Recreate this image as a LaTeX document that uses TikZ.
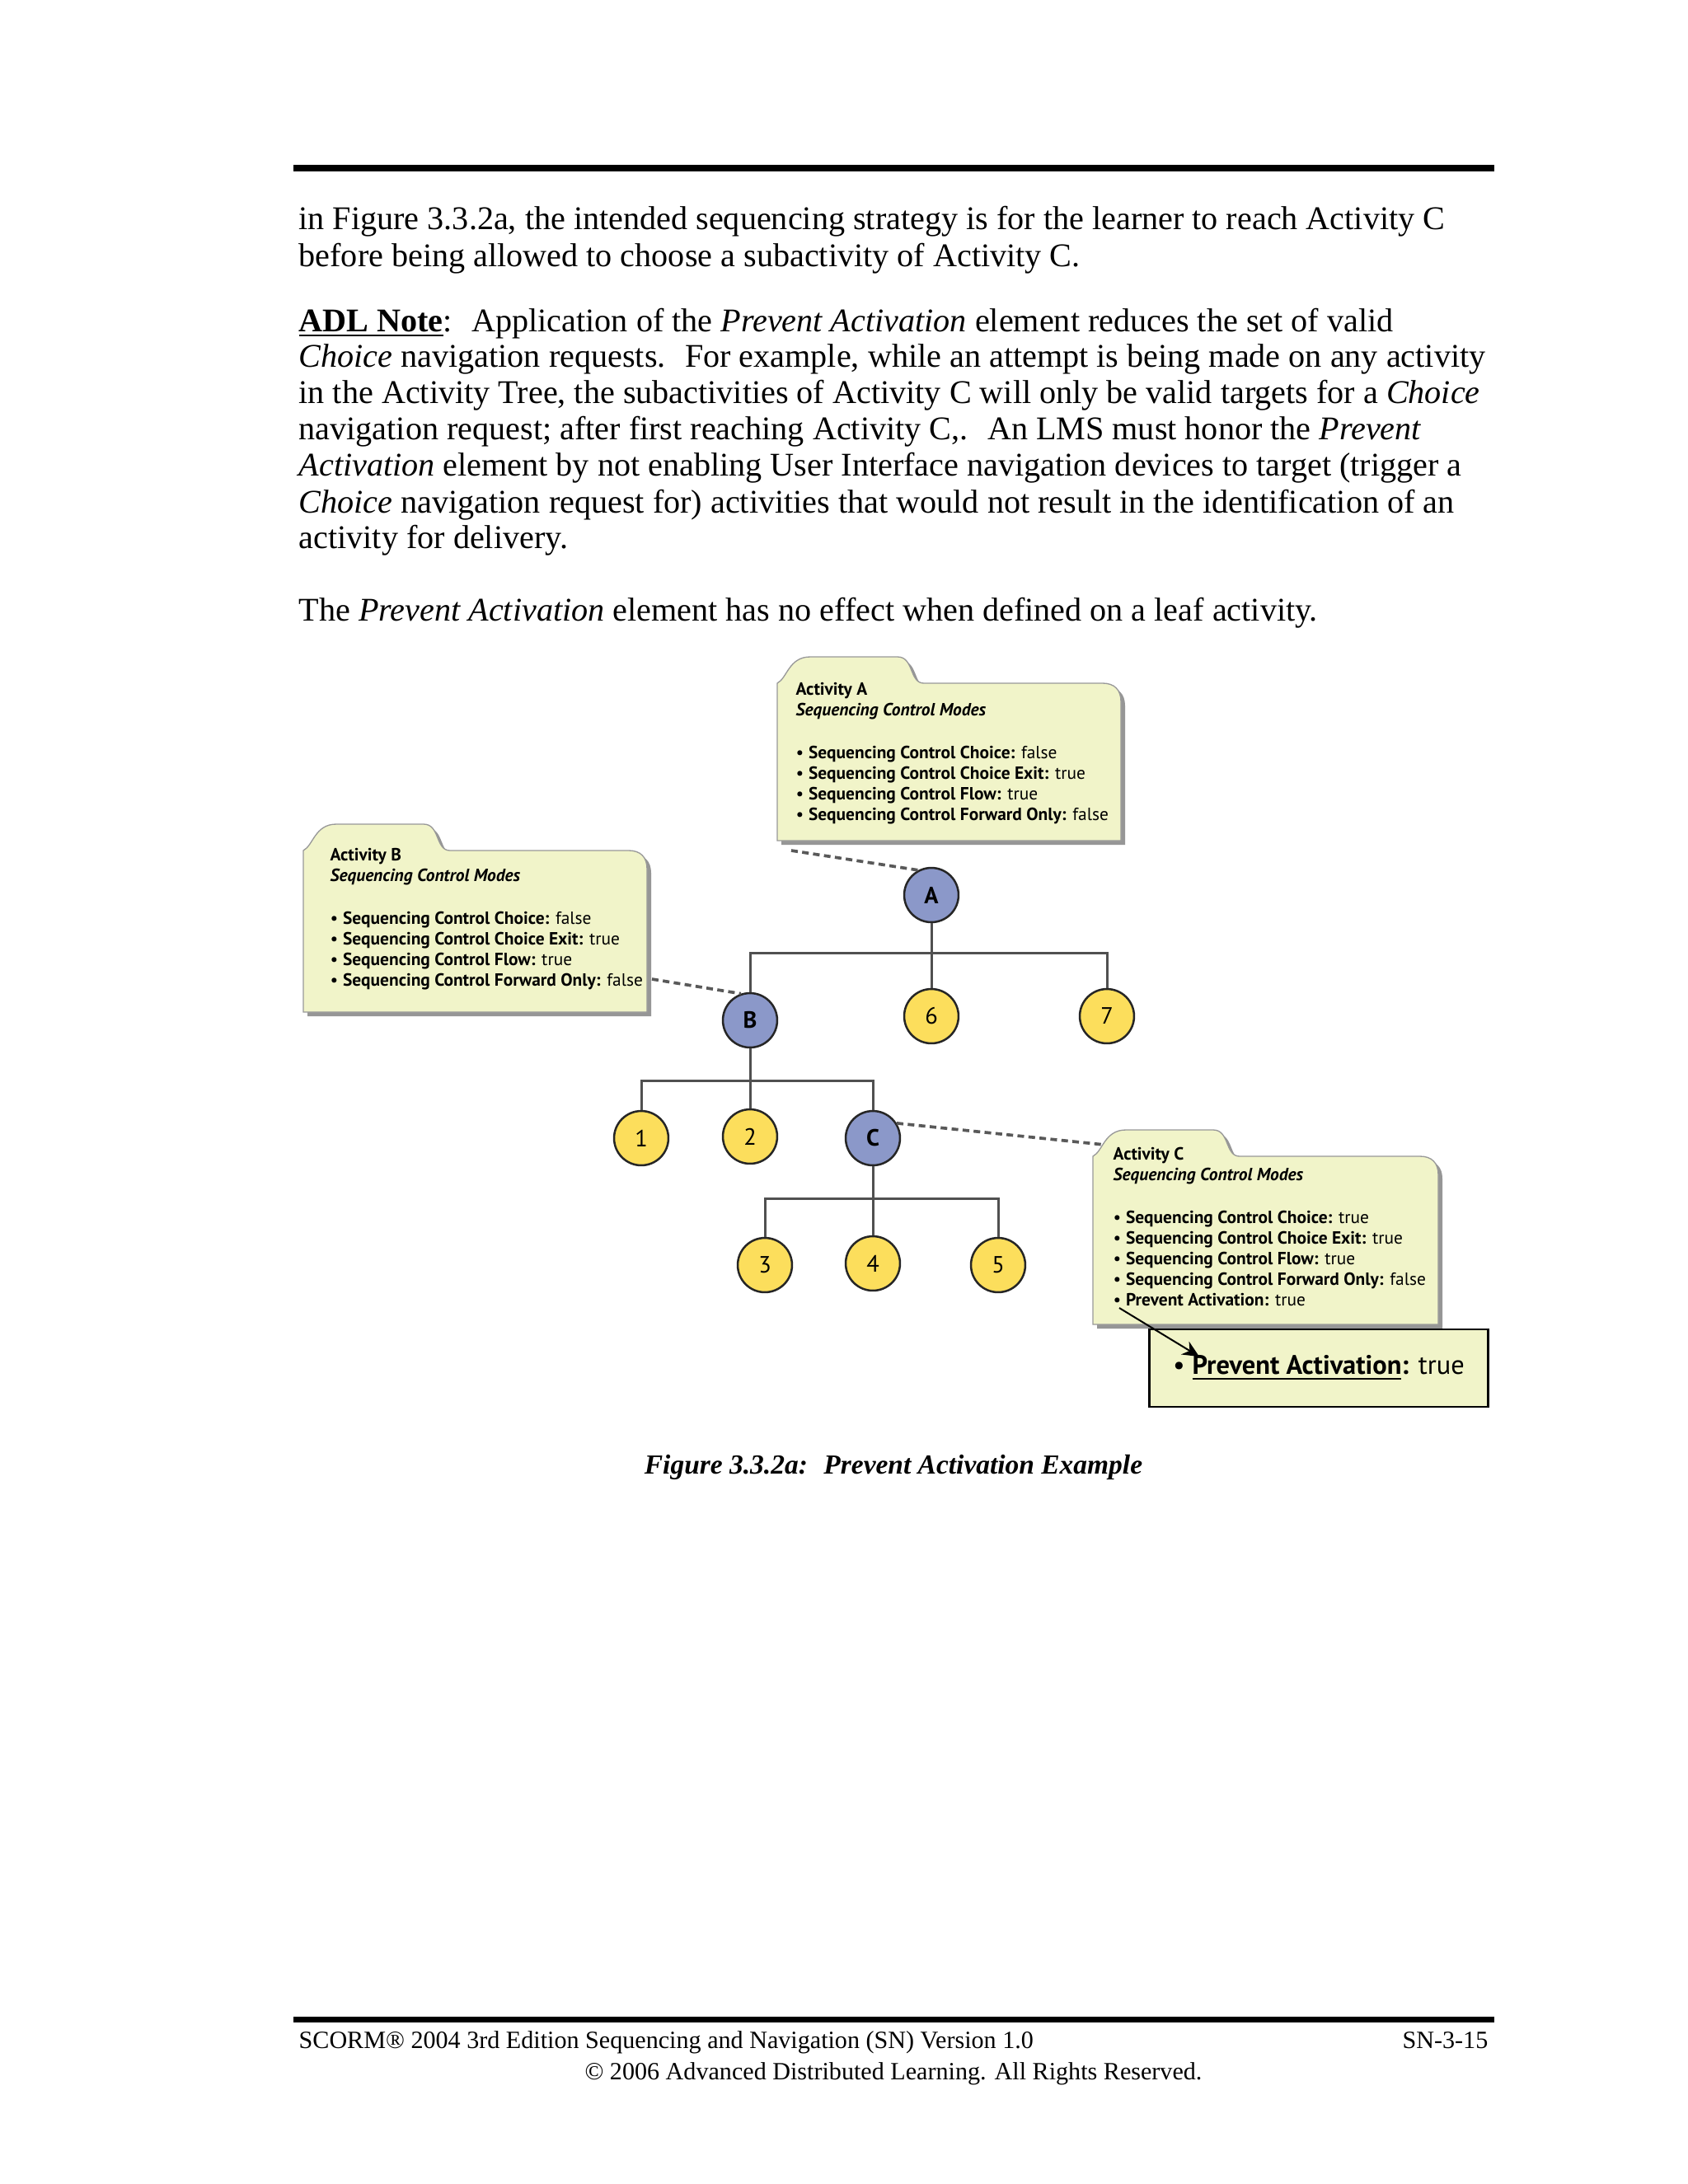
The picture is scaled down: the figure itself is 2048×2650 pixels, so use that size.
\documentclass[tikz,border=0pt]{standalone}
\usepackage{fontspec}
\setmainfont{Liberation Serif}
\newfontfamily\boxfont{PT Sans}
\usetikzlibrary{arrows.meta}
\definecolor{folderfill}{RGB}{241,244,201}
\definecolor{foldershade}{RGB}{150,150,150}
\definecolor{clusterfill}{RGB}{139,152,201}
\definecolor{leaffill}{RGB}{252,222,92}
\definecolor{linkgray}{RGB}{80,80,80}
% outline of a folder: left, top of body, right, bottom (in pixels)
\def\folderpath#1#2#3#4{(#1,#4) -- (#1,#2)
	.. controls (#1+12,#2-6) and (#1+14,#2-32) .. (#1+40,#2-32) -- (#1+146,#2-32)
	.. controls (#1+166,#2-32) and (#1+160,#2) .. (#1+178,#2) -- (#3-22,#2)
	.. controls (#3-8,#2) and (#3,#2+8) .. (#3,#2+22) -- (#3,#4) -- cycle}
\tikzset{
	activity/.style={
		draw=black!85,
		circle,
		line width=0.75pt,
		minimum size=19.7pt,
		inner sep=0pt,
		fill=clusterfill,
		font=\boxfont\bfseries\fontsize{8.5}{10}\selectfont,
	},
	leaf/.style={
		activity,
		fill=leaffill,
		font=\boxfont\fontsize{8.5}{10}\selectfont,
	},
	link/.style={
		draw=linkgray,
		line width=0.9pt,
	},
	note/.style={
		draw=black!65,
		line width=1.1pt,
		dash pattern=on 2.4pt off 1.6pt,
	},
	folder/.style={
		fill=folderfill,
		draw=black!40,
		line width=0.4pt,
	},
	shade/.style={
		fill=foldershade,
		shift={(5,5)},
	},
	modes/.style={
		anchor=north west,
		align=left,
		inner sep=0pt,
		font=\boxfont\fontsize{6.4}{7.47}\selectfont,
	},
	prevent/.style={
		draw,
		line width=0.75pt,
		fill=folderfill,
		minimum width=122.8pt,
		minimum height=28.1pt,
		font=\boxfont\fontsize{9.7}{12}\selectfont,
	},
	pointer/.style={
		line width=0.6pt,
		-{Stealth[length=6pt,width=5.5pt]},
	},
	body/.style={
		anchor=base west,
		inner sep=0pt,
		font=\fontsize{12}{14}\selectfont,
	},
	foot/.style={
		inner sep=0pt,
		font=\fontsize{9}{11}\selectfont,
	},
}

\begin{document}
\begin{tikzpicture}[x=0.29883pt,y=-0.29883pt]
	\path[use as bounding box, fill=white] (0,0) rectangle (2048,2650);

	\fill (356,200) rectangle (1813,208);
	\fill (356,2447) rectangle (1813,2454);

	\node[body] (line1) at (362,278) {in Figure 3.3.2a, the intended sequencing strategy is for the learner to reach Activity C};
	\node[body] (line2) at (362,323) {before being allowed to choose a subactivity of Activity C.};
	\node[body] (line3) at (362,402) {\textbf{\underline{ADL Note}}:~ Application of the \textit{Prevent Activation} element reduces the set of valid};
	\node[body] (line4) at (362,445) {\textit{Choice} navigation requests.~ For example, while an attempt is being made on any activity};
	\node[body] (line5) at (362,489) {in the Activity Tree, the subactivities of Activity C will only be valid targets for a \textit{Choice}};
	\node[body] (line6) at (362,533) {navigation request; after first reaching Activity C,.~ An LMS must honor the \textit{Prevent}};
	\node[body] (line7) at (362,577) {\textit{Activation} element by not enabling User Interface navigation devices to target (trigger a};
	\node[body] (line8) at (362,622) {\textit{Choice} navigation request for) activities that would not result in the identification of an};
	\node[body] (line9) at (362,665) {activity for delivery.};
	\node[body] (line10) at (362,753) {The \textit{Prevent Activation} element has no effect when defined on a leaf activity.};

%*********

	\fill[shade] \folderpath{943}{829}{1360}{1020};
	\draw[folder] \folderpath{943}{829}{1360}{1020};
	\node[modes] (boxA) at (965,828) {\textbf{Activity A}\\ \textbf{\textit{Sequencing Control Modes}}\\[7.8pt]
		\textbullet\ \textbf{Sequencing Control Choice:} false\\
		\textbullet\ \textbf{Sequencing Control Choice Exit:} true\\
		\textbullet\ \textbf{Sequencing Control Flow:} true\\
		\textbullet\ \textbf{Sequencing Control Forward Only:} false};

	\fill[shade] \folderpath{368}{1032}{785}{1228};
	\draw[folder] \folderpath{368}{1032}{785}{1228};
	\node[modes] (boxB) at (400,1029) {\textbf{Activity B}\\ \textbf{\textit{Sequencing Control Modes}}\\[7.8pt]
		\textbullet\ \textbf{Sequencing Control Choice:} false\\
		\textbullet\ \textbf{Sequencing Control Choice Exit:} true\\
		\textbullet\ \textbf{Sequencing Control Flow:} true\\
		\textbullet\ \textbf{Sequencing Control Forward Only:} false};

	\fill[shade] \folderpath{1326}{1403}{1745}{1607};
	\draw[folder] \folderpath{1326}{1403}{1745}{1607};
	\node[modes] (boxC) at (1350,1392) {\textbf{Activity C}\\ \textbf{\textit{Sequencing Control Modes}}\\[7.8pt]
		\textbullet\ \textbf{Sequencing Control Choice:} true\\
		\textbullet\ \textbf{Sequencing Control Choice Exit:} true\\
		\textbullet\ \textbf{Sequencing Control Flow:} true\\
		\textbullet\ \textbf{Sequencing Control Forward Only:} false\\
		\textbullet\ \textbf{Prevent Activation:} true};

	\node[prevent] (prevent) at (1600,1660) {\textbullet\ \textbf{\underline{Prevent Activation}:} true};

%*********

	\node[activity] (A) at (1130,1086) {A};
	\node[activity] (B) at (910,1238) {B};
	\node[leaf]     (leaf6) at (1130,1233) {6};
	\node[leaf]     (leaf7) at (1343,1233) {7};
	\node[leaf]     (leaf1) at (778,1381) {1};
	\node[leaf]     (leaf2) at (910,1379) {2};
	\node[activity] (C) at (1059,1381) {C};
	\node[leaf]     (leaf3) at (928,1535) {3};
	\node[leaf]     (leaf4) at (1059,1533) {4};
	\node[leaf]     (leaf5) at (1211,1535) {5};

	\coordinate (forkA) at (1130,1156);
	\coordinate (forkB) at (910,1311);
	\coordinate (forkC) at (1059,1454);

	\draw[link] (A) -- (leaf6);
	\draw[link] (forkA) -| (B);
	\draw[link] (forkA) -| (leaf7);
	\draw[link] (B) -- (leaf2);
	\draw[link] (forkB) -| (leaf1);
	\draw[link] (forkB) -| (C);
	\draw[link] (C) -- (leaf4);
	\draw[link] (forkC) -| (leaf3);
	\draw[link] (forkC) -| (leaf5);

	\coordinate (noteA) at (960,1032);
	\coordinate (noteB) at (791,1188);
	\coordinate (noteC) at (1340,1389);
	\draw[note] (noteA) -- (A.118);
	\draw[note] (noteB) -- (B.109);
	\draw[note] (C.32) -- (noteC);

	\coordinate (fromC) at (1358,1587);
	\coordinate (toPrevent) at (1455,1646);
	\draw[pointer] (fromC) -- (toPrevent);

%*********

	\node[anchor=base, inner sep=0pt, font=\bfseries\itshape\fontsize{10}{12}\selectfont] (caption) at (1084,1788) {Figure 3.3.2a:~ Prevent Activation Example};

	\node[foot, anchor=base west] (footL) at (362,2485) {SCORM® 2004 3rd Edition Sequencing and Navigation (SN) Version 1.0};
	\node[foot, anchor=base east] (footR) at (1806,2485) {SN-3-15};
	\node[foot, anchor=base] (copy) at (1084,2523) {© 2006 Advanced Distributed Learning. All Rights Reserved.};
\end{tikzpicture}
\end{document}
